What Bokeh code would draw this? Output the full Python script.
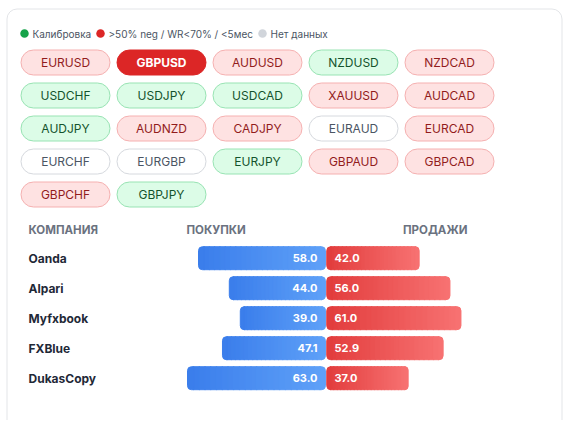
from bokeh.plotting import figure
from bokeh.models import Range1d, ColumnDataSource
from bokeh.core.properties import value
from bokeh.embed import file_html
from bokeh.resources import INLINE

# ---------------- data ----------------
legend_labels = ["Калибровка", ">50% neg / WR<70% / <5мес", "Нет данных"]
legend_status = ["green", "red", "none"]

pairs = ["EURUSD", "GBPUSD", "AUDUSD", "NZDUSD", "NZDCAD",
         "USDCHF", "USDJPY", "USDCAD", "XAUUSD", "AUDCAD",
         "AUDJPY", "AUDNZD", "CADJPY", "EURAUD", "EURCAD",
         "EURCHF", "EURGBP", "EURJPY", "GBPAUD", "GBPCAD",
         "GBPCHF", "GBPJPY"]
pair_status = ["red", "selected", "red", "green", "red",
               "green", "green", "green", "red", "red",
               "green", "red", "red", "none", "red",
               "none", "none", "green", "red", "red",
               "red", "green"]

headers = ["КОМПАНИЯ", "ПОКУПКИ", "ПРОДАЖИ"]
companies = ["Oanda", "Alpari", "Myfxbook", "FXBlue", "DukasCopy"]
buys = [58.0, 44.0, 39.0, 47.1, 63.0]
sells = [42.0, 56.0, 61.0, 52.9, 37.0]

# ---------------- styles ----------------
W, H = 566, 420
FONT = value("Inter")
styles = {
    "red": dict(fill="#fee2e2", line="#f5b0b0", text="#921c1c", bold="normal"),
    "green": dict(fill="#dcfce7", line="#98e3b3", text="#14532d", bold="normal"),
    "none": dict(fill="#ffffff", line="#d6d9de", text="#4b5563", bold="normal"),
    "selected": dict(fill="#dc2626", line="#dc2626", text="#ffffff", bold="bold"),
}
dot_colors = {"green": "#16a34a", "red": "#dc2626", "none": "#d1d5db"}


def Y(py):
    return H - py


p = figure(width=W, height=H, output_backend="svg", toolbar_location=None,
           x_range=Range1d(0, W), y_range=Range1d(0, H), min_border=0)
p.axis.visible = False
p.grid.visible = False
p.outline_line_color = None
p.background_fill_color = "#ffffff"
p.border_fill_color = "#ffffff"

# card
p.quad(left=6.5, right=561.5, top=Y(8.5), bottom=-30, fill_color="#ffffff",
       line_color="#e3e5e8", line_width=1, border_radius=10)

# legend
lx = [24, 100, 262]
for i, (lab, st) in enumerate(zip(legend_labels, legend_status)):
    p.scatter(x=[lx[i]], y=[Y(33)], size=8.5, marker="circle",
              fill_color=dot_colors[st], line_color=None)
    p.text(x=[lx[i] + 8], y=[Y(33)], text=[lab], text_font=FONT,
           text_font_size="10px", text_color="#4b5563",
           text_baseline="middle", text_align="left")

# pills
PW, PH, PX, PY = 90, 26, 96, 33
X0, Y0 = 20, 49
for st in styles:
    idx = [i for i, s in enumerate(pair_status) if s == st]
    if not idx:
        continue
    lefts = [X0 + PX * (i % 5) for i in idx]
    tops = [Y0 + PY * (i // 5) for i in idx]
    src = ColumnDataSource(dict(
        left=[l + 0.5 for l in lefts], right=[l + PW - 0.5 for l in lefts],
        top=[Y(t + 0.5) for t in tops], bottom=[Y(t + PH - 0.5) for t in tops],
        cx=[l + PW / 2 for l in lefts], cy=[Y(t + PH / 2) for t in tops],
        label=[pairs[i] for i in idx]))
    s = styles[st]
    p.quad(left="left", right="right", top="top", bottom="bottom", source=src,
           fill_color=s["fill"], line_color=s["line"], line_width=1,
           border_radius=13)
    p.text(x="cx", y="cy", text="label", source=src, text_font=FONT,
           text_font_size="12px", text_font_style=s["bold"],
           text_color=s["text"], text_align="center", text_baseline="middle")

# table headers
hy = Y(229)
p.text(x=[28], y=[hy], text=[headers[0]], text_font=FONT, text_font_size="11.5px",
       text_font_style="bold", text_color="#6b7280", text_baseline="middle")
p.text(x=[186], y=[hy], text=[headers[1]], text_font=FONT, text_font_size="11.5px",
       text_font_style="bold", text_color="#6b7280", text_baseline="middle")
p.text(x=[467], y=[hy], text=[headers[2]], text_font=FONT, text_font_size="11.5px",
       text_font_style="bold", text_color="#6b7280", text_baseline="middle",
       text_align="right")

# bars
C = 325.6
SC = 2.2
GAP = 0.65
BH = 23
RY0, RP = 257.7, 30
N = 24


def lerp(c1, c2, t):
    a = [int(c1[i:i + 2], 16) for i in (1, 3, 5)]
    b = [int(c2[i:i + 2], 16) for i in (1, 3, 5)]
    return "#%02x%02x%02x" % tuple(round(a[k] + (b[k] - a[k]) * t) for k in range(3))


BLUE = ("#3a7deb", "#5fa1f8")
RED = ("#e23c3c", "#f77272")

segs = {"first": dict(left=[], right=[], top=[], bottom=[], color=[]),
        "mid": dict(left=[], right=[], top=[], bottom=[], color=[]),
        "last": dict(left=[], right=[], top=[], bottom=[], color=[])}

for i in range(len(companies)):
    cy = RY0 + RP * i
    for (l, r, cols) in [(C - SC * buys[i], C - GAP, BLUE),
                         (C + GAP, C + GAP + SC * sells[i], RED)]:
        w = (r - l) / N
        for k in range(N):
            key = "first" if k == 0 else ("last" if k == N - 1 else "mid")
            d = segs[key]
            sl = l + w * k
            sr = sl + w + (0.6 if k < N - 1 else 0)
            d["left"].append(sl)
            d["right"].append(sr)
            d["top"].append(Y(cy - BH / 2))
            d["bottom"].append(Y(cy + BH / 2))
            d["color"].append(lerp(cols[0], cols[1], (k + 0.5) / N))

p.quad(left="mid_l", right="mid_r", top="t", bottom="b", color="c",
       source=ColumnDataSource(dict(mid_l=segs["mid"]["left"], mid_r=segs["mid"]["right"],
                                    t=segs["mid"]["top"], b=segs["mid"]["bottom"],
                                    c=segs["mid"]["color"])))
p.quad(left="l", right="r", top="t", bottom="b", color="c", border_radius=(4, 0, 0, 4),
       source=ColumnDataSource(dict(l=segs["first"]["left"], r=segs["first"]["right"],
                                    t=segs["first"]["top"], b=segs["first"]["bottom"],
                                    c=segs["first"]["color"])))
p.quad(left="l", right="r", top="t", bottom="b", color="c", border_radius=(0, 4, 4, 0),
       source=ColumnDataSource(dict(l=segs["last"]["left"], r=segs["last"]["right"],
                                    t=segs["last"]["top"], b=segs["last"]["bottom"],
                                    c=segs["last"]["color"])))

# names and values
rows_y = [Y(RY0 + RP * i) for i in range(len(companies))]
p.text(x=[28] * len(companies), y=rows_y, text=companies, text_font=FONT,
       text_font_size="12px", text_font_style="bold", text_color="#1f2937",
       text_baseline="middle")
p.text(x=[C - 8.6] * len(companies), y=rows_y, text=["%.1f" % v for v in buys],
       text_font=FONT, text_font_size="11px", text_font_style="bold",
       text_color="#ffffff", text_baseline="middle", text_align="right")
p.text(x=[C + 8.4] * len(companies), y=rows_y, text=["%.1f" % v for v in sells],
       text_font=FONT, text_font_size="11px", text_font_style="bold",
       text_color="#ffffff", text_baseline="middle", text_align="left")

open("out.html", "w").write(file_html(p, INLINE))
